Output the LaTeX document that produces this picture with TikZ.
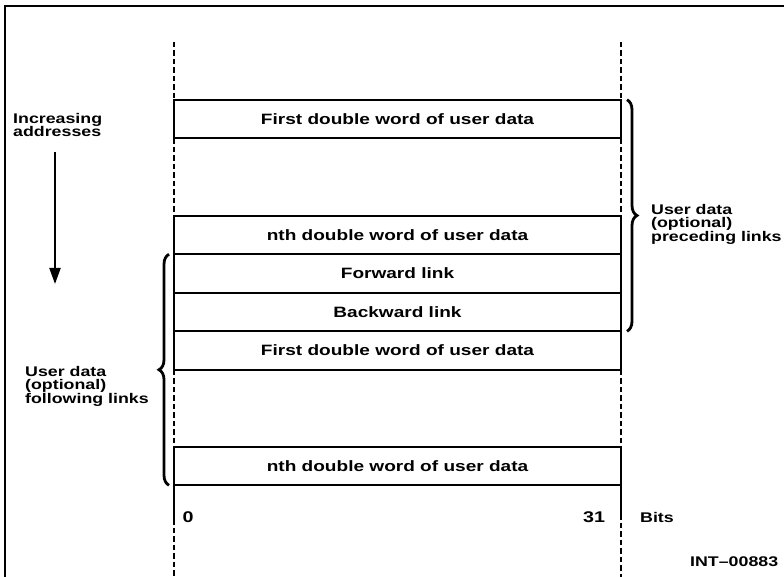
\documentclass[tikz,border=0pt]{standalone}
\usepackage{fontspec}
\newfontfamily\memfont[FakeStretch=1.27]{Liberation Sans}
\usetikzlibrary{arrows.meta,decorations.pathreplacing,positioning}

\begin{document}
\begin{tikzpicture}[x=1pt, y=-1pt,
        word/.style={draw, line width=2pt, minimum width=447pt, minimum height=38.5pt,
            inner sep=0pt, outer sep=0pt, font=\memfont\bfseries\fontsize{15}{15}\selectfont},
        side/.style={anchor=west, align=left, inner sep=0pt,
            font=\memfont\bfseries\fontsize{14}{13.5}\selectfont},
        bitno/.style={inner sep=0pt, font=\memfont\bfseries\fontsize{15.5}{16}\selectfont},
        col/.style={line width=2pt},
        gap/.style={line width=2pt, dash pattern=on 5.5pt off 3pt},
        brc/.style={decorate, decoration={brace, amplitude=10pt}, line width=2.8pt}
    ]

    \useasboundingbox (0,0) rectangle (784,577);

    % frame (only top and left edges show)
    \draw[line width=2pt] (5,577) -- (5,6) -- (784,6);

    % words before the links
    \node[word] (firstA) at (397.5,119) {First double word of user data};
    \node[word] (nthA) at (397.5,235) {nth double word of user data};

    % the links and the words after them
    \node[word, below=0pt of nthA] (fwd) {Forward link};
    \node[word, below=0pt of fwd] (bwd) {Backward link};
    \node[word, below=0pt of bwd] (firstB) {First double word of user data};
    \node[word] (nthB) at (397.5,466) {nth double word of user data};

    % columns
    \coordinate (topL) at (174,42);
    \coordinate (topR) at (621,42);
    \coordinate (endL) at (174,519);
    \coordinate (endR) at (621,514);
    \coordinate (botL) at (174,577);
    \coordinate (botR) at (621,577);
    \draw[gap] (topL) -- (firstA.north west);
    \draw[gap] (topR) -- (firstA.north east);
    \foreach \a/\b in {firstA/nthA, firstB/nthB} {
        \draw[gap] (\a.south west) -- (\b.north west);
        \draw[gap] (\a.south east) -- (\b.north east);
    }
    \draw[col] (nthB.south west) -- (endL);
    \draw[col] (nthB.south east) -- (endR);
    \draw[gap] (endL) -- (botL);
    \draw[gap] (endR) -- (botR);

    % braces
    \draw[brc] ([xshift=6pt]firstA.north east) -- ([xshift=6pt]bwd.south east);
    \node[side] (precLbl) at (651,224) {User data\\(optional)\\preceding links};
    \draw[brc] ([xshift=-5pt]nthB.south west) -- ([xshift=-5pt]fwd.north west);
    \node[side] (follLbl) at (25,386) {User data\\(optional)\\following links};

    % direction
    \node[side] (incr) at (13,125) {Increasing\\addresses};
    \coordinate (arrTop) at (55,152);
    \coordinate (arrEnd) at (55,284);
    \draw[line width=2pt, -{Triangle[width=11pt, length=16pt]}] (arrTop) -- (arrEnd);

    % bit numbers
    \node[bitno] (bit0) at (188,517) {0};
    \node[bitno] (bit31) at (594,517) {31};
    \node[side] (bitsLbl) at (640,517) {Bits};
    \node[side] (figId) at (690,562) {INT–00883};

\end{tikzpicture}
\end{document}
